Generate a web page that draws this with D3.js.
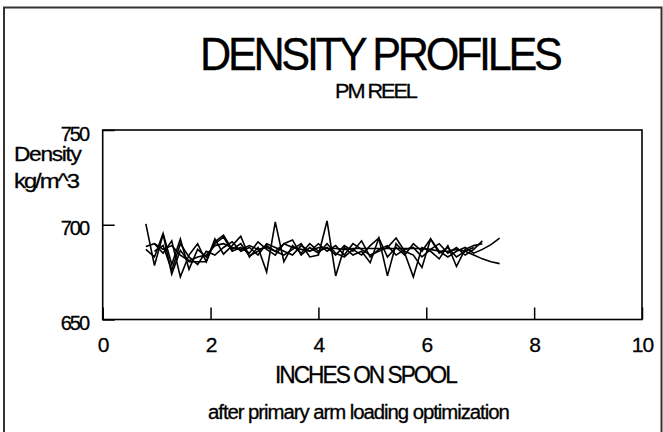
<!DOCTYPE html>
<html>
<head>
<meta charset="utf-8">
<script src="https://cdn.jsdelivr.net/npm/d3@7"></script>
<style>
  html, body { margin: 0; padding: 0; background: #fff; }
  svg { display: block; }
  text { font-family: "Liberation Sans", Arial, sans-serif; fill: #000; stroke: #000; stroke-width: 0.3px; }
</style>
</head>
<body>
<svg id="chart" width="663" height="432"></svg>
<script>
// ---- data ----
const titleText = "DENSITY PROFILES";
const subTitleText = "PM REEL";
const xTitle = "INCHES ON SPOOL";
const noteText = "after primary arm loading optimization";
const yLabelLines = ["Density", "kg/m^3"];
const xTicks = [0, 2, 4, 6, 8, 10];
const yTicks = [650, 700, 750];

const positions = [0.80,0.96,1.12,1.28,1.44,1.60,1.76,1.92,2.08,2.24,2.40,2.56,2.72,2.88,3.04,3.20,
  3.36,3.52,3.68,3.84,4.00,4.16,4.32,4.48,4.64,4.80,4.96,5.12,5.28,5.44,5.60,5.76,5.92,6.08,6.24,6.40,
  6.56,6.72,6.88,7.04,7.20,7.36];

const profile1 = [700.5,678.5,695,674,686.5,680.5,680.5,680.5,692.5,684.5,689,694,683,688,675,701.5,
  680.5,689,685,690,686,688,684,689,686,691.5,683,687,689,684,687,688,683,687,690,685,688,684,687,691.5,null,null];
const profile2 = [688.5,690,687,689,684,681,683,684,689,690,688,687,689,687,688,686,
  690,688,687,686,688,687.5,687.5,687,687.5,687.5,687.5,687.5,687.5,687.5,687.5,687.5,687.5,687,686,686,
  687,686,684,682,680.5,679.5];
const profile3 = [687,683,695.5,679,692.5,676.5,687,683,690,693.5,686,688,685,691,687,684,
  690,692,684,688,685,690,685,683,687,684,689,693,683,688,684,690,686,692.5,686,683,
  686,688,685,687,689.5,693];
const profile4 = [null,690,685,691.5,672.5,684,690,680.5,691,694.5,687,690,683.5,686,689,686,
  684,687,690,683,684,702,673,688,684,686,680,693,673,690,685,672.5,688,686,682,689,
  678,687,689,690,null,null];
const profile5 = [null,686,689,676,690,683,679,686,684,688,691,686,688,684,690,688,
  686,684,689,686,690,686,689,684,690,687,684,686,688,693,686,684,677.5,692.5,685,688,
  683,686,688,null,null,null];
const profiles = [profile1, profile2, profile3, profile4, profile5];

// ---- layout ----
const svg = d3.select("#chart");
const plotL = 102.7, plotR = 642, plotT = 130, plotB = 319.5;

const x = d3.scaleLinear().domain([0, 10]).range([plotL, plotR]);
const y = d3.scaleLinear().domain([650, 750]).range([plotB, plotT]);

// helper: tight letter spacing, then squeeze horizontally to target width
function fitText(sel, width, spacing) {
  sel.style("letter-spacing", spacing + "px");
  const len = sel.node().getComputedTextLength() - spacing;
  const x0 = +sel.attr("x");
  const s = width / len;
  sel.attr("transform", `translate(${x0},0) scale(${s},1) translate(${-x0},0)`);
  return sel;
}

// outer frame
svg.append("rect")
  .attr("x", 4).attr("y", 7.5).attr("width", 657.5).attr("height", 440)
  .attr("fill", "none").attr("stroke", "#333").attr("stroke-width", 2);

// titles
fitText(svg.append("text").attr("x", 200).attr("y", 70)
  .attr("font-size", 46).text(titleText), 363, -3.5);
fitText(svg.append("text").attr("x", 335).attr("y", 98.3)
  .attr("font-size", 21).text(subTitleText), 83, -2);

// y label
fitText(svg.append("text").attr("x", 14).attr("y", 161)
  .attr("font-size", 21).text(yLabelLines[0]), 68, -1.2);
fitText(svg.append("text").attr("x", 14).attr("y", 188)
  .attr("font-size", 21).text(yLabelLines[1]), 66, -1.8);

// axes
const xAxis = d3.axisBottom(x).tickValues(xTicks).tickFormat(d3.format("d"))
  .tickSizeInner(-12).tickSizeOuter(0).tickPadding(17.6);
const gx = svg.append("g").attr("transform", `translate(0,${plotB})`).call(xAxis);
gx.select(".domain").remove();
gx.selectAll("line").attr("stroke", "#000").attr("stroke-width", 1.5);
gx.selectAll("text").attr("font-size", 21).attr("font-family", "Liberation Sans, Arial, sans-serif")
  .style("letter-spacing", "-1px");

const yAxis = d3.axisLeft(y).tickValues(yTicks).tickFormat(d3.format("d"))
  .tickSizeInner(-12).tickSizeOuter(0).tickPadding(14.7);
const gy = svg.append("g").attr("transform", `translate(${plotL},0)`).call(yAxis);
gy.select(".domain").remove();
gy.selectAll("line").attr("stroke", "#000").attr("stroke-width", 1.5);
gy.selectAll("text").attr("font-size", 20).attr("dy", "0.5em")
  .attr("font-family", "Liberation Sans, Arial, sans-serif")
  .style("letter-spacing", "-2px");

// plot box
svg.append("rect")
  .attr("x", plotL).attr("y", plotT).attr("width", plotR - plotL).attr("height", plotB - plotT)
  .attr("fill", "none").attr("stroke", "#000").attr("stroke-width", 1.6);

// profiles
const line = d3.line()
  .defined(d => d[1] !== null)
  .x(d => x(d[0])).y(d => y(d[1]));
svg.append("g").selectAll("path").data(profiles).join("path")
  .attr("d", vals => line(vals.map((v, i) => [positions[i], v])))
  .attr("fill", "none").attr("stroke", "#000").attr("stroke-width", 1.6)
  .attr("stroke-linejoin", "miter");

// x title and note
fitText(svg.append("text").attr("x", 275).attr("y", 383.3)
  .attr("font-size", 23).text(xTitle), 183, -2);
fitText(svg.append("text").attr("x", 208).attr("y", 419)
  .attr("font-size", 19.5).text(noteText), 302, -1);
</script>
</body>
</html>
